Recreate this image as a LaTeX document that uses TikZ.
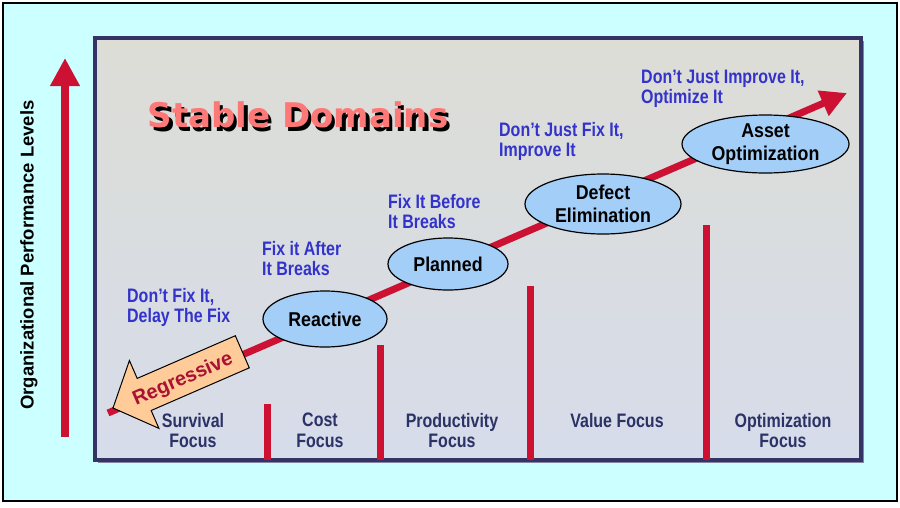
\documentclass[tikz,border=0pt]{standalone}
\usepackage{fontspec}
\setmainfont{Liberation Sans}
\newfontfamily\titlefont{DejaVu Sans}
\newfontfamily\narrowfont[FakeStretch=0.82]{Liberation Sans}
\newfontfamily\ellfont[FakeStretch=0.89]{Liberation Sans}
\usetikzlibrary{arrows.meta,shapes.geometric}
\definecolor{bgcyan}{RGB}{204,255,255}
\definecolor{panelnavy}{RGB}{51,51,102}
\definecolor{panelTop}{RGB}{221,221,214}
\definecolor{panelBot}{RGB}{214,220,234}
\definecolor{barred}{RGB}{204,17,51}
\definecolor{ellblue}{RGB}{163,206,247}
\definecolor{txtblue}{RGB}{51,51,204}
\definecolor{txtnavy}{RGB}{43,51,102}
\definecolor{regfill}{RGB}{255,204,153}
\definecolor{regtext}{RGB}{170,17,51}
\definecolor{titlepink}{RGB}{255,120,120}
\begin{document}
\begin{tikzpicture}[x=1pt,y=-1pt,
  redline/.style={draw=barred,line width=7pt},
  bar/.style={draw=barred,line width=7pt},
  ell/.style={ellipse,draw=black,line width=1.2pt,fill=ellblue,inner sep=0pt,align=center,
    font=\ellfont\bfseries\fontsize{20}{23}\selectfont},
  bluetxt/.style={anchor=north west,inner sep=0pt,align=left,text=txtblue,
    font=\narrowfont\bfseries\fontsize{19.5}{20}\selectfont},
  focustxt/.style={anchor=north,inner sep=0pt,align=center,text=txtnavy,
    font=\narrowfont\bfseries\fontsize{19.5}{20.5}\selectfont}]
\useasboundingbox (0,0) rectangle (900,507);
% outer frame
\draw[fill=bgcyan,draw=black,line width=2pt] (3,3) rectangle (896.5,500.5);
% panel
\fill[panelnavy!60] (98,41) rectangle (864,463);
\shade[top color=panelTop,bottom color=panelBot] (95,38) rectangle (861,460);
\draw[panelnavy,line width=3.5pt] (95,38) rectangle (861,460);
% vertical axis
\coordinate (axb) at (65,437);
\coordinate (axt) at (65,58);
\draw[draw=barred,line width=8.5pt,-{Triangle[length=28pt,width=28pt]}] (axb) -- (axt);
\node[rotate=90,text=black,font=\bfseries\fontsize{18.5}{22}\selectfont] (axlabel) at (29,255) {Organizational Performance Levels};
% title
\node[text=black,font=\titlefont\bfseries\fontsize{34}{40}\selectfont] (titleshadow) at (301.5,118.5) {Stable Domains};
\node[text=titlepink,font=\titlefont\bfseries\fontsize{34}{40}\selectfont] (title) at (298,115) {Stable Domains};
% diagonal arrow
\coordinate (ds) at (108,413);
\coordinate (de) at (847,93);
\draw[redline,-{Triangle[length=26pt,width=26pt]}] (ds) -- (de);
% bars
\coordinate (b1t) at (267,404); \coordinate (b1b) at (267,460);
\coordinate (b2t) at (380,345); \coordinate (b2b) at (380,460);
\coordinate (b3t) at (530,286); \coordinate (b3b) at (530,460);
\coordinate (b4t) at (706,225); \coordinate (b4b) at (706,460);
\draw[bar] (b1t) -- (b1b);
\draw[bar] (b2t) -- (b2b);
\draw[bar] (b3t) -- (b3b);
\draw[bar] (b4t) -- (b4b);
% ellipses
\node[ell,minimum width=124pt,minimum height=56pt] (reactive) at (325,319) {Reactive};
\node[ell,minimum width=120pt,minimum height=52pt] (planned) at (448,264) {Planned};
\node[ell,minimum width=156pt,minimum height=60pt] (defect) at (603,204) {Defect\\Elimination};
\node[ell,minimum width=167pt,minimum height=58pt] (asset) at (765.5,144) {Asset\\Optimization};
% regressive arrow
\begin{scope}[shift={(113,408)},rotate=23.5]
\filldraw[fill=regfill,draw=black,line width=1pt,line join=miter]
  (0,0) -- (34,-37) -- (34,-17.5) -- (141,-17.5) -- (141,17.5) -- (34,17.5) -- (34,37) -- cycle;
\end{scope}
\node[rotate=23.5,text=regtext,font=\bfseries\fontsize{20}{22}\selectfont] (regressive) at (183,380) {Regressive};
% blue labels
\node[bluetxt] (l1) at (127,288) {Don’t Fix It,\\Delay The Fix};
\node[bluetxt] (l2) at (262,241) {Fix it After\\It Breaks};
\node[bluetxt] (l3) at (388,194) {Fix It Before\\It Breaks};
\node[bluetxt] (l4) at (499,122) {Don’t Just Fix It,\\Improve It};
\node[bluetxt] (l5) at (641,70) {Don’t Just Improve It,\\Optimize It};
% focus labels
\node[focustxt] (f1) at (193,413) {Survival\\Focus};
\node[focustxt] (f2) at (320,413) {Cost\\Focus};
\node[focustxt] (f3) at (452,413) {Productivity\\Focus};
\node[focustxt] (f4) at (617,413) {Value Focus};
\node[focustxt] (f5) at (783,413) {Optimization\\Focus};
\end{tikzpicture}
\end{document}
